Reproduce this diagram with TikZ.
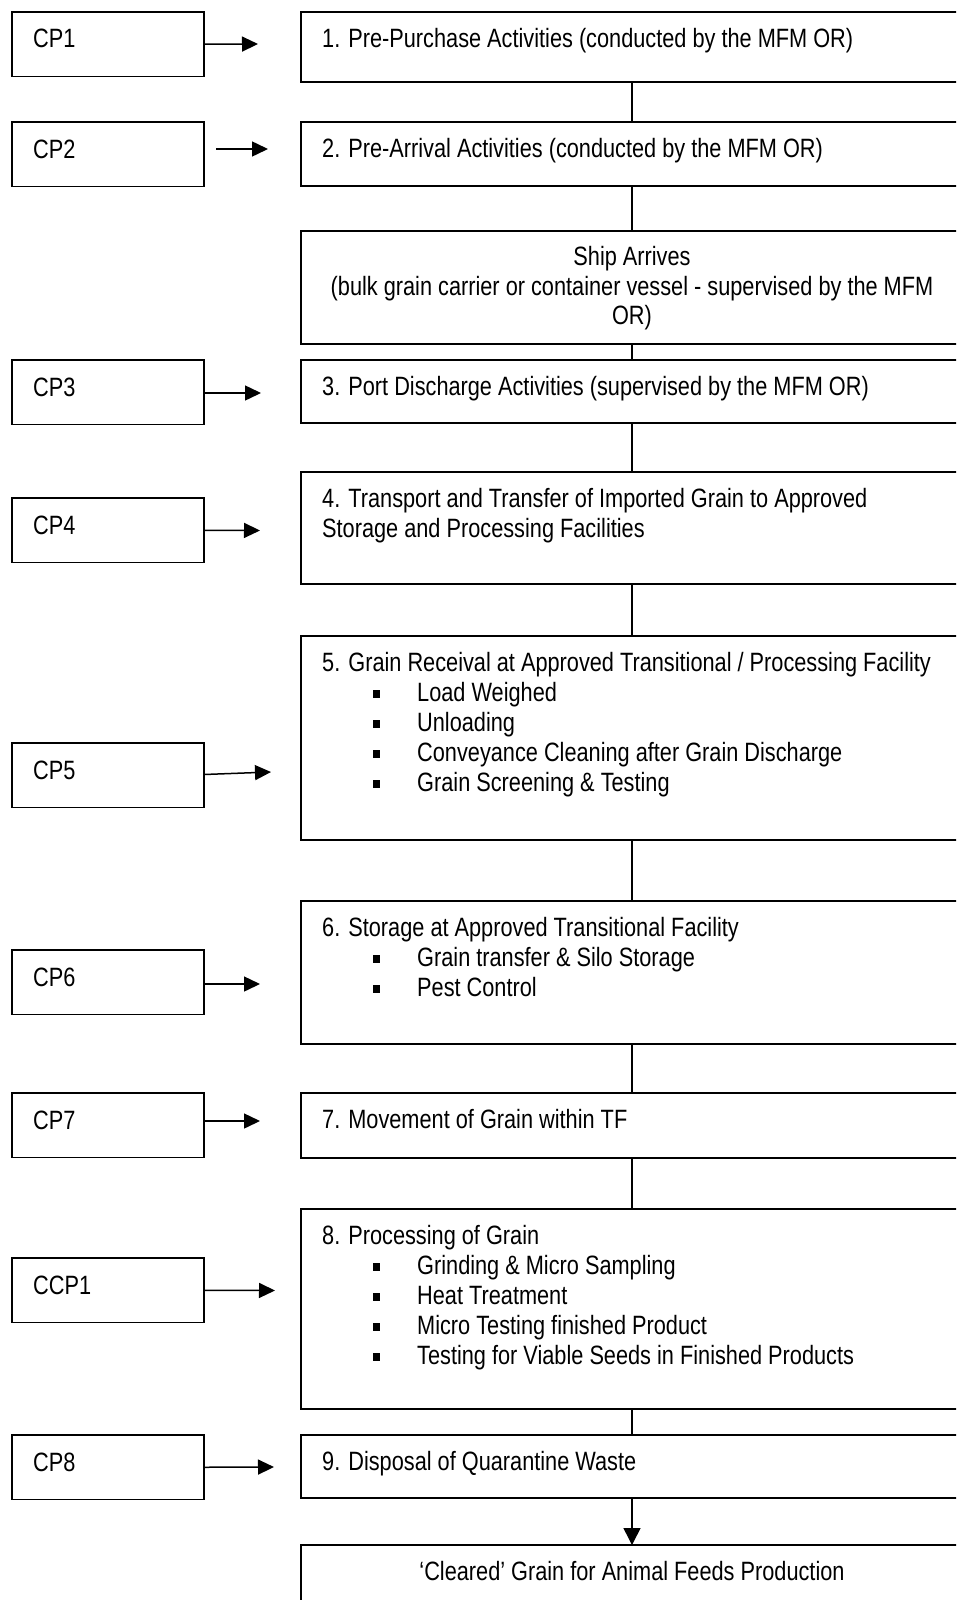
\documentclass[tikz,border=0pt]{standalone}
\usepackage{fontspec}
\setmainfont{Liberation Sans}[FakeStretch=0.82]
\usetikzlibrary{arrows.meta}
\newcommand\sqbul{\makebox[95pt][l]{\hspace*{50.5pt}\raisebox{4pt}{\rule{7.5pt}{7.5pt}}}}
\begin{document}
\begin{tikzpicture}[x=1pt,y=-1pt,
  cpbox/.style={draw, line width=1.6pt, anchor=north west, inner sep=0pt, outer sep=0pt, minimum width=192pt, minimum height=64.5pt},
  mainbox/.style={draw, line width=1.6pt, anchor=north west, inner sep=0pt, outer sep=0pt, minimum width=662pt},
  txt/.style={anchor=base west, inner sep=0pt, align=left, font=\fontsize{26.5pt}{30pt}\selectfont},
  ctxt/.style={anchor=base, inner sep=0pt, align=center, font=\fontsize{26.5pt}{29.5pt}\selectfont},
  arr/.style={line width=1.5pt, -{Triangle[length=16pt,width=15pt]}},
  conn/.style={line width=1.5pt}]
\useasboundingbox (0,0) rectangle (956,1600);
\fill[white] (0,0) rectangle (956,1600);
\clip (0,0) rectangle (956,1600);

% main boxes
\node[mainbox, minimum height=70pt]  (b1)   at (301,12)   {};
\node[mainbox, minimum height=64pt]  (b2)   at (301,122)  {};
\node[mainbox, minimum height=113pt] (ship) at (301,231)  {};
\node[mainbox, minimum height=63pt]  (b3)   at (301,360)  {};
\node[mainbox, minimum height=112pt] (b4)   at (301,472)  {};
\node[mainbox, minimum height=204pt] (b5)   at (301,636)  {};
\node[mainbox, minimum height=143pt] (b6)   at (301,901)  {};
\node[mainbox, minimum height=65pt]  (b7)   at (301,1093) {};
\node[mainbox, minimum height=200pt] (b8)   at (301,1209) {};
\node[mainbox, minimum height=63pt]  (b9)   at (301,1435) {};
\node[mainbox, minimum height=90pt]  (fin)  at (301,1545) {};

% CP boxes
\node[cpbox] (cp1) at (12,12)   {};
\node[cpbox] (cp2) at (12,122)  {};
\node[cpbox] (cp3) at (12,360)  {};
\node[cpbox] (cp4) at (12,498)  {};
\node[cpbox] (cp5) at (12,743)  {};
\node[cpbox] (cp6) at (12,950)  {};
\node[cpbox] (cp7) at (12,1093) {};
\node[cpbox] (ccp1) at (12,1258) {};
\node[cpbox] (cp8) at (12,1435) {};

% CP labels
\node[txt] (l1) at (33,48)     {CP1};
\node[txt] (l2) at (33,158)    {CP2};
\node[txt] (l3) at (33,396)    {CP3};
\node[txt] (l4) at (33,534)    {CP4};
\node[txt] (l5) at (33,779)    {CP5};
\node[txt] (l6) at (33,986)    {CP6};
\node[txt] (l7) at (33,1129)   {CP7};
\node[txt] (l8) at (33,1294)   {CCP1};
\node[txt] (l9) at (33,1471)   {CP8};

% main texts (base anchor = baseline of last line)
\node[txt] (t1) at (322,47.5)  {1. Pre-Purchase Activities (conducted by the MFM OR)};
\node[txt] (t2) at (322,157.5) {2. Pre-Arrival Activities (conducted by the MFM OR)};
\node[ctxt] (ts) at (632,324.5) {Ship Arrives\\(bulk grain carrier or container vessel - supervised by the MFM\\OR)};
\node[txt] (t3) at (322,395.5) {3. Port Discharge Activities (supervised by the MFM OR)};
\node[txt] (t4) at (322,537.5) {4. Transport and Transfer of Imported Grain to Approved\\Storage and Processing Facilities};
\node[txt] (t5) at (322,791.5) {5. Grain Receival at Approved Transitional / Processing Facility\\
  \sqbul Load Weighed\\ \sqbul Unloading\\ \sqbul Conveyance Cleaning after Grain Discharge\\ \sqbul Grain Screening \& Testing};
\node[txt] (t6) at (322,996.5) {6. Storage at Approved Transitional Facility\\
  \sqbul Grain transfer \& Silo Storage\\ \sqbul Pest Control};
\node[txt] (t7) at (322,1128.5) {7. Movement of Grain within TF};
\node[txt] (t8) at (322,1364.5) {8. Processing of Grain\\
  \sqbul Grinding \& Micro Sampling\\ \sqbul Heat Treatment\\ \sqbul Micro Testing finished Product\\ \sqbul Testing for Viable Seeds in Finished Products};
\node[txt] (t9) at (322,1470.5) {9. Disposal of Quarantine Waste};
\node[ctxt] (tf) at (632,1580.5) {‘Cleared’ Grain for Animal Feeds Production};

% vertical connectors
\draw[conn] (b1.south) -- (b2.north);
\draw[conn] (b2.south) -- (ship.north);
\draw[conn] (ship.south) -- (b3.north);
\draw[conn] (b3.south) -- (b4.north);
\draw[conn] (b4.south) -- (b5.north);
\draw[conn] (b5.south) -- (b6.north);
\draw[conn] (b6.south) -- (b7.north);
\draw[conn] (b7.south) -- (b8.north);
\draw[conn] (b8.south) -- (b9.north);
\draw[conn, -{Triangle[length=17pt,width=17pt]}] (b9.south) -- (fin.north);

% horizontal arrows
\coordinate (e1) at (258,44);
\coordinate (s2) at (216,149);
\coordinate (e2) at (268,149);
\coordinate (e3) at (261,393);
\coordinate (e4) at (260,530.5);
\coordinate (s5) at (204,774.5);
\coordinate (e5) at (271,772);
\coordinate (e6) at (260,984);
\coordinate (s7) at (204,1121);
\coordinate (e7) at (260,1121);
\coordinate (e8) at (275,1290.5);
\coordinate (e9) at (274,1467);
\draw[arr] (cp1.east) -- (e1);
\draw[arr] (s2) -- (e2);
\draw[arr] (cp3.east |- e3) -- (e3);
\draw[arr] (cp4.east) -- (e4);
\draw[arr] (s5) -- (e5);
\draw[arr] (cp6.east |- e6) -- (e6);
\draw[arr] (s7) -- (e7);
\draw[arr] (ccp1.east) -- (e8);
\draw[arr] (cp8.east) -- (e9);
\end{tikzpicture}
\end{document}
